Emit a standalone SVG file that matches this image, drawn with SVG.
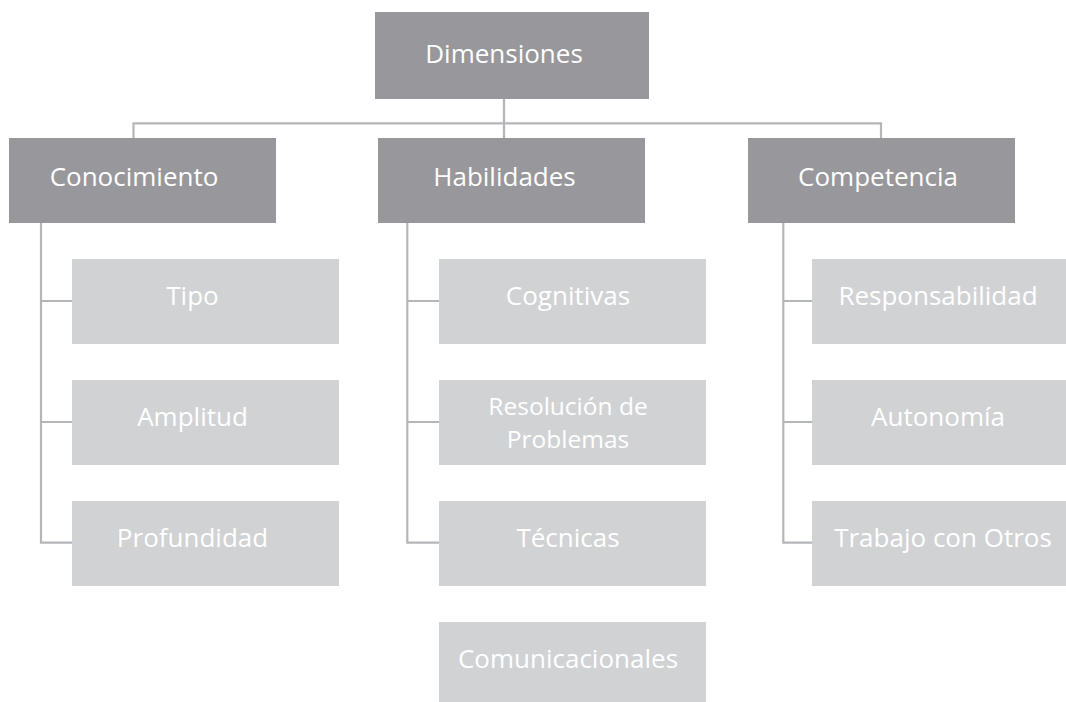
<svg xmlns="http://www.w3.org/2000/svg" width="1066" height="702" viewBox="0 0 1066 702">
<style>
.dark{fill:#98979b}
.light{fill:#d1d2d4}
.t{font-family:"Open Sans","Noto Sans","Liberation Sans",sans-serif;font-size:26px;fill:#ffffff;text-anchor:middle}
.c{fill:none;stroke:#b5b6b9;stroke-width:2.2}
</style>
<rect width="1066" height="702" fill="#ffffff"/>
<g id="connectors">
<path class="c" d="M504 99V138M133.5 138V123.3H881V138"/>
<path class="c" d="M41 223V542.7H72M41 301H72M41 422H72"/>
<path class="c" d="M407.3 223V542.7H439M407.3 301H439M407.3 422H439"/>
<path class="c" d="M783.3 223V542.7H812M783.3 301H812M783.3 422H812"/>
</g>
<g id="n-dimensiones"><rect class="dark" x="375" y="12" width="274" height="87"/><text class="t" x="504" y="62.5">Dimensiones</text></g>
<g id="n-conocimiento"><rect class="dark" x="9" y="138" width="267" height="85"/><text class="t" x="134" y="186">Conocimiento</text></g>
<g id="n-habilidades"><rect class="dark" x="378" y="138" width="267" height="85"/><text class="t" x="504.5" y="186">Habilidades</text></g>
<g id="n-competencia"><rect class="dark" x="748" y="138" width="267" height="85"/><text class="t" x="878" y="186">Competencia</text></g>
<g id="n-tipo"><rect class="light" x="72" y="259" width="267" height="85"/><text class="t" x="192.5" y="305">Tipo</text></g>
<g id="n-amplitud"><rect class="light" x="72" y="380" width="267" height="85"/><text class="t" x="192.5" y="426">Amplitud</text></g>
<g id="n-profundidad"><rect class="light" x="72" y="501" width="267" height="85"/><text class="t" x="192.5" y="547">Profundidad</text></g>
<g id="n-cognitivas"><rect class="light" x="439" y="259" width="267" height="85"/><text class="t" x="568" y="305">Cognitivas</text></g>
<g id="n-resolucion"><rect class="light" x="439" y="380" width="267" height="85"/><text class="t" x="568" y="414.5" style="font-size:24.5px">Resolución de</text><text class="t" x="568" y="448" style="font-size:24.5px">Problemas</text></g>
<g id="n-tecnicas"><rect class="light" x="439" y="501" width="267" height="85"/><text class="t" x="568" y="547">Técnicas</text></g>
<g id="n-comunicacionales"><rect class="light" x="439" y="622" width="267" height="80"/><text class="t" x="568" y="668">Comunicacionales</text></g>
<g id="n-responsabilidad"><rect class="light" x="812" y="259" width="267" height="85"/><text class="t" x="938" y="305">Responsabilidad</text></g>
<g id="n-autonomia"><rect class="light" x="812" y="380" width="267" height="85"/><text class="t" x="938" y="426">Autonomía</text></g>
<g id="n-trabajo"><rect class="light" x="812" y="501" width="267" height="85"/><text class="t" x="943" y="547">Trabajo con Otros</text></g>
</svg>
